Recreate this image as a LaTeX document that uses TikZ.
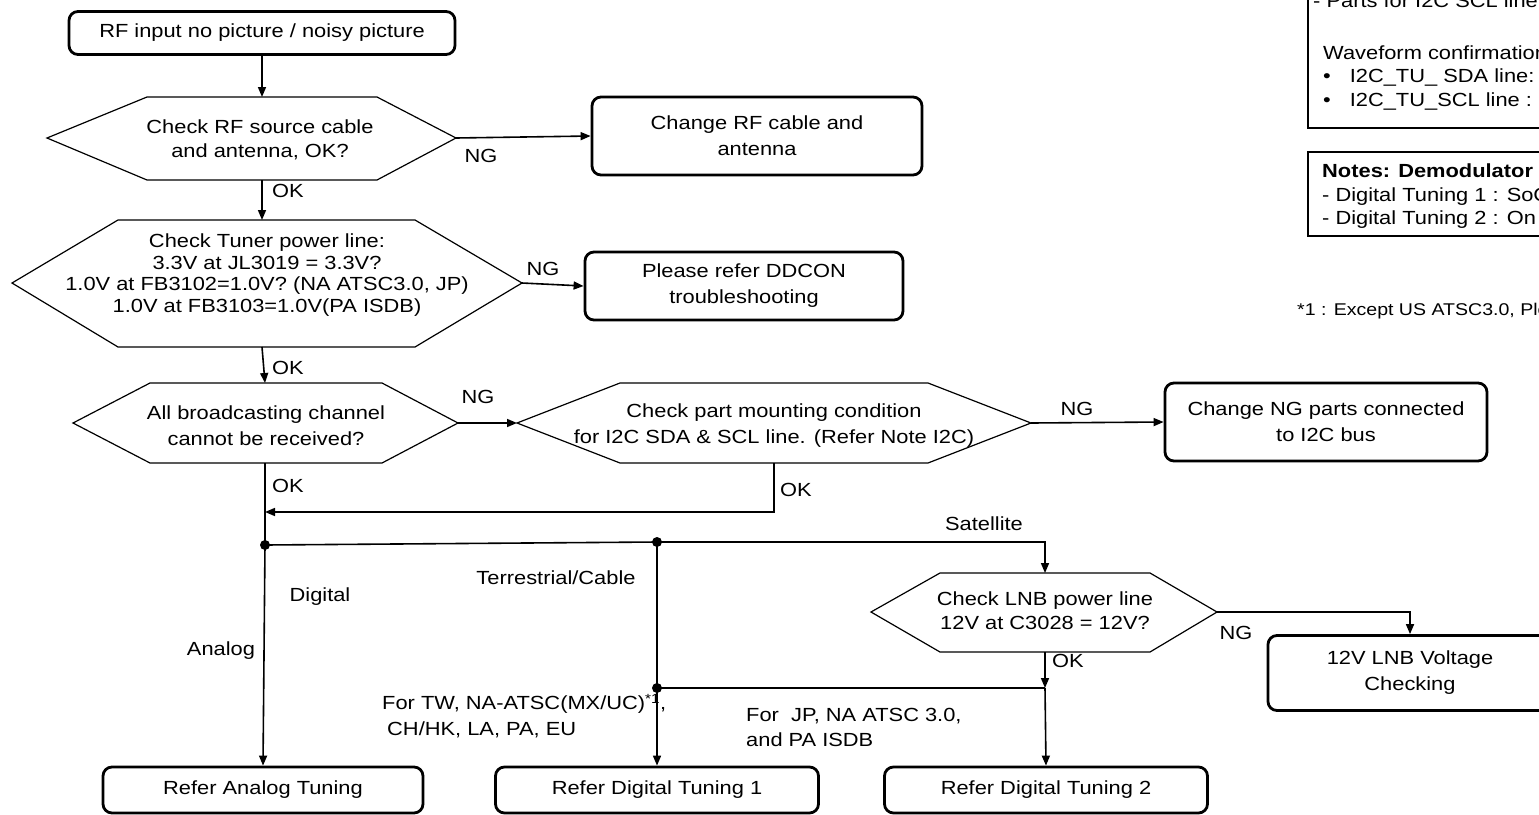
\documentclass[tikz,border=0pt]{standalone}
\usepackage{fontspec}
\setmainfont{Liberation Sans}[FakeStretch=1.15]
\usetikzlibrary{arrows.meta}
\newcommand\myfs{\fontsize{19}{24}\selectfont}
\newcommand\myboxfs{\fontsize{19}{26}\selectfont}
\begin{document}
\begin{tikzpicture}[x=1pt,y=-1pt,
  box/.style={draw, line width=2.8pt, rounded corners=9pt, align=center, font=\myboxfs, inner sep=0pt},
  hexl/.style={draw, line width=1.2pt, line join=miter},
  txt/.style={align=center, font=\myfs, inner sep=0pt},
  lbl/.style={font=\myfs, inner sep=0pt},
  conn/.style={line width=1.6pt},
  arr/.style={conn, -{Triangle[length=10pt,width=8pt]}},
  dot/.style={circle, fill, inner sep=0pt, minimum size=10pt},
  note/.style={draw, line width=1.3pt},
  ntxt/.style={font=\myfs, inner sep=0pt, anchor=west}
]
\useasboundingbox (0,0) rectangle (1539,814);
\clip (0,0) rectangle (1539,814);

% boxes
\node[box, minimum width=386pt, minimum height=43pt] (start) at (262,33) {RF input no picture / noisy picture};
\node[box, minimum width=330pt, minimum height=78pt] (rfbox) at (757,136) {Change RF cable and\\antenna};
\node[box, minimum width=318pt, minimum height=68pt] (ddcon) at (744,286) {Please refer DDCON\\troubleshooting};
\node[box, minimum width=322pt, minimum height=78pt] (ngparts) at (1326,422) {Change NG parts connected\\to I2C bus};
\node[box, minimum width=284pt, minimum height=75pt] (lnbbox) at (1410,673) {12V LNB Voltage\\Checking};
\node[box, minimum width=320pt, minimum height=46pt] (analog) at (263,790) {Refer Analog Tuning};
\node[box, minimum width=323pt, minimum height=46pt] (dt1) at (657,790) {Refer Digital Tuning 1};
\node[box, minimum width=323pt, minimum height=46pt] (dt2) at (1046,790) {Refer Digital Tuning 2};

% hexagon 1
\coordinate (h1w) at (47,138); \coordinate (h1e) at (456,138);
\coordinate (h1n) at (262,97); \coordinate (h1s) at (262,180);
\draw[hexl] (h1w) -- (147,97) -- (377,97) -- (h1e) -- (377,180) -- (147,180) -- cycle;
\node[txt] (h1) at (260,140) {Check RF source cable\\and antenna, OK?};

% hexagon 2
\coordinate (h2w) at (12,283); \coordinate (h2e) at (522,283);
\coordinate (h2n) at (262,220); \coordinate (h2s) at (262,347);
\draw[hexl] (h2w) -- (118,220) -- (415,220) -- (h2e) -- (415,347) -- (118,347) -- cycle;
\node[txt, font=\fontsize{19}{21.5}\selectfont] (h2) at (267,275) {Check Tuner power line:\\3.3V at JL3019 = 3.3V?\\1.0V at FB3102=1.0V? (NA ATSC3.0, JP)\\1.0V at FB3103=1.0V(PA ISDB)};

% hexagon 3
\coordinate (h3w) at (73,423); \coordinate (h3e) at (458,423);
\coordinate (h3n) at (265,383); \coordinate (h3s) at (265,463);
\draw[hexl] (h3w) -- (150,383) -- (382,383) -- (h3e) -- (382,463) -- (150,463) -- cycle;
\node[txt, font=\fontsize{19}{26}\selectfont] (h3) at (266,426) {All broadcasting channel\\cannot be received?};

% hexagon 4
\coordinate (h4w) at (517,423); \coordinate (h4e) at (1031,423);
\coordinate (h4n) at (774,383); \coordinate (h4s) at (774,463);
\draw[hexl] (h4w) -- (620,383) -- (928,383) -- (h4e) -- (928,463) -- (620,463) -- cycle;
\node[txt, font=\fontsize{19}{26}\selectfont] (h4) at (774,426) {Check part mounting condition\\for I2C SDA \& SCL line. (Refer Note I2C)};

% hexagon 5
\coordinate (h5w) at (871,612); \coordinate (h5e) at (1217,612);
\coordinate (h5n) at (1045,573); \coordinate (h5s) at (1045,652);
\draw[hexl] (h5w) -- (940,573) -- (1150,573) -- (h5e) -- (1150,652) -- (940,652) -- cycle;
\node[txt] (h5) at (1045,611) {Check LNB power line\\12V at C3028 = 12V?};

% junctions
\node[dot] (j1) at (265,545) {};
\node[dot] (j2) at (657,542) {};
\node[dot] (j3) at (657,688) {};
\coordinate (j4) at (1045,688);
\coordinate (ret) at (265,512);

% connectors
\draw[arr] (start.south) -- (h1n);
\draw[arr] (h1e) -- (rfbox.west);
\draw[arr] (h1s) -- (h2n);
\draw[arr] (h2e) -- (ddcon.west);
\draw[arr] (h2s) -- (h3n);
\draw[arr] (h3e) -- (h4w);
\draw[arr] (h4e) -- (ngparts.west);
\draw[arr] (h4s) |- (ret);
\draw[conn] (h3s) -- (j1.center);
\draw[arr] (j1.center) -- (analog.north);
\draw[conn] (j1.center) -- (j2.center);
\draw[arr] (j2.center) -| (h5n);
\draw[arr] (j2.center) -- (dt1.north);
\draw[arr] (h5s) -- (j4);
\draw[conn] (j3.center) -- (j4);
\draw[arr] (j4) -- (dt2.north);
\draw[arr] (h5e) -| (lnbbox.north);

% labels
\node[lbl] (l1) at (481,156) {NG};
\node[lbl] (l2) at (288,191) {OK};
\node[lbl] (l3) at (543,269) {NG};
\node[lbl] (l4) at (288,368) {OK};
\node[lbl] (l5) at (478,397) {NG};
\node[lbl] (l6) at (288,486) {OK};
\node[lbl] (l7) at (796,490) {OK};
\node[lbl] (l8) at (1077,409) {NG};
\node[lbl] (l9) at (984,524) {Satellite};
\node[lbl] (l10) at (320,597) {Digital};
\node[lbl] (l11) at (221,651) {Analog};
\node[lbl] (l12) at (556,578) {Terrestrial/Cable};
\node[lbl] (l13) at (1236,633) {NG};
\node[lbl] (l14) at (1068,661) {OK};
\node[lbl, anchor=west] (l15) at (382,704) {For TW, NA-ATSC(MX/UC)\textsuperscript{*1},};
\node[lbl, anchor=west] (l16) at (387,730) {CH/HK, LA, PA, EU};
\node[lbl, anchor=west] (l17) at (746,716) {For\ \ JP, NA ATSC 3.0,};
\node[lbl, anchor=west] (l18) at (746,740) {and PA ISDB};

% notes (cut off at the picture edge)
\draw[note] (1308,-40) rectangle (1700,128);
\node[ntxt] (n1) at (1313,1) {- Parts for I2C SCL line};
\node[ntxt] (n2) at (1323,53) {Waveform confirmation};
\node[ntxt] (n3) at (1323,78) {\textbullet\quad I2C\_TU\_ SDA line:};
\node[ntxt] (n4) at (1323,102) {\textbullet\quad I2C\_TU\_SCL line :};
\draw[note] (1308,152) rectangle (1700,236);
\node[ntxt] (n5) at (1322,171) {\textbf{Notes: Demodulator}};
\node[ntxt] (n6) at (1322,197) {- Digital Tuning 1 : SoC};
\node[ntxt] (n7) at (1322,220) {- Digital Tuning 2 : On};
\node[ntxt, font=\fontsize{17}{22}\selectfont] (n8) at (1297,311) {*1 : Except US ATSC3.0, Please};
\end{tikzpicture}
\end{document}
